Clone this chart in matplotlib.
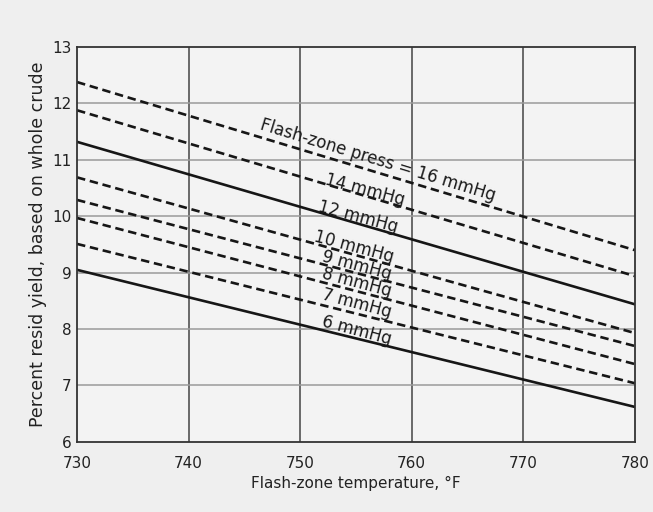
import matplotlib.pyplot as plt

plt.rcParams['font.family'] = ['DejaVu Sans']

# temperature end points, degF
temps = [730, 780]

# resid yield (%) at 730 and 780 degF for each flash-zone pressure
y_16 = [12.38, 9.40]
y_14 = [11.88, 8.94]
y_12 = [11.32, 8.44]
y_10 = [10.69, 7.93]
y_9 = [10.29, 7.70]
y_8 = [9.97, 7.38]
y_7 = [9.51, 7.04]
y_6 = [9.05, 6.62]

series = [
    (y_16, 'dash'), (y_14, 'dash'), (y_12, 'solid'), (y_10, 'dash'),
    (y_9, 'dash'), (y_8, 'dash'), (y_7, 'dash'), (y_6, 'solid'),
]

labels = ['Flash-zone press = 16 mmHg', '14 mmHg', '12 mmHg', '10 mmHg',
          '9 mmHg', '8 mmHg', '7 mmHg', '6 mmHg']
label_x = [757.0, 755.8, 755.2, 754.8, 755.1, 755.1, 755.1, 755.1]
label_y = [11.00, 10.46, 9.99, 9.45, 9.13, 8.83, 8.46, 7.98]
label_rot = [-17, -15, -15, -15, -15, -15, -15, -15]

fig = plt.figure(figsize=(6.53, 5.12), dpi=100, facecolor='#efefef')
ax = fig.add_axes([0.118, 0.137, 0.854, 0.771], facecolor='#f3f3f3')

for ys, style in series:
    if style == 'dash':
        ax.plot(temps, ys, color='#161616', lw=1.9, dashes=(3.2, 1.8))
    else:
        ax.plot(temps, ys, color='#161616', lw=1.9)

for txt, lx, ly, rot in zip(labels, label_x, label_y, label_rot):
    ax.text(lx, ly, txt, rotation=rot, ha='center', va='center',
            fontsize=12, color='#1a1a1a', rotation_mode='anchor')

ax.set_xlim(730, 780)
ax.set_ylim(6, 13)
ax.set_xticks(range(730, 781, 10))
ax.set_yticks(range(6, 14))

for xv in range(740, 780, 10):
    ax.axvline(xv, color='#444444', lw=1.1, zorder=0)
for yv in range(7, 13):
    ax.axhline(yv, color='#9a9a9a', lw=1.1, zorder=0)

for sp in ax.spines.values():
    sp.set_color('#333333')
    sp.set_linewidth(1.3)

ax.tick_params(axis='x', length=0, labelsize=11, pad=10, colors='#222222')
ax.tick_params(axis='y', length=0, labelsize=11, pad=4, colors='#222222')
ax.set_xlabel('Flash-zone temperature, °F', fontsize=11, color='#222222', labelpad=4)
ax.set_ylabel('Percent resid yield, based on whole crude', fontsize=12.5,
              color='#222222', labelpad=4)

fig.savefig('out.png', dpi=100, facecolor=fig.get_facecolor())
